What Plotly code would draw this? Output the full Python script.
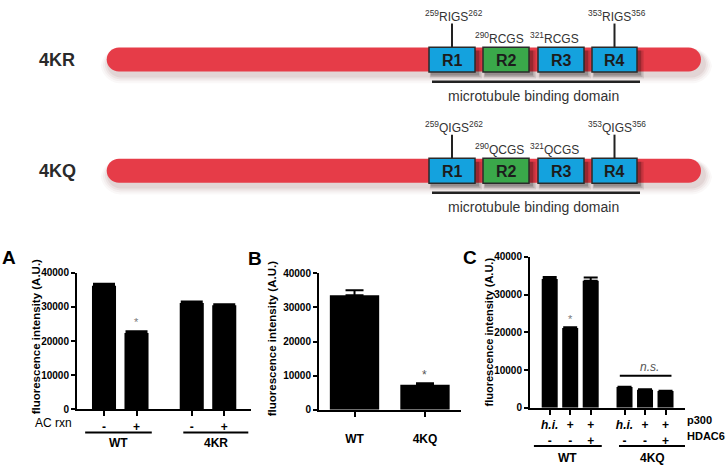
import plotly.graph_objects as go

W, H = 726, 472
FONT = "Liberation Sans, Arial, sans-serif"

# ---------------- data ----------------
A_conditions = ['-', '+', '-', '+']
A_groups = ['WT', 'WT', '4KR', '4KR']
A_values = [36170, 22370, 31140, 30460]
A_errors = [570, 490, 370, 280]

B_categories = ['WT', '4KQ']
B_values = [33600, 7310]
B_errors = [1450, 490]

C_p300 = ['h.i.', '+', '+', 'h.i.', '+', '+']
C_hdac6 = ['-', '-', '+', '-', '-', '+']
C_groups = ['WT', 'WT', 'WT', '4KQ', '4KQ', '4KQ']
C_values = [34140, 21160, 33620, 5500, 4800, 4460]
C_errors = [520, 150, 860, 100, 150, 80]

y_ticks = [0, 10000, 20000, 30000, 40000]
y_ticktext = ['0', '10000', '20000', '30000', '40000']

constructs = ['4KR', '4KQ']
repeat_names = ['R1', 'R2', 'R3', 'R4']
repeat_colors = ['#14A2DE', '#3AA84A', '#14A2DE', '#14A2DE']
motif_start = ['259', '290', '321', '353']
motif_end = ['262', '', '', '356']
motif_seq = {'4KR': ['RIGS', 'RCGS', 'RCGS', 'RIGS'],
             '4KQ': ['QIGS', 'QCGS', 'QCGS', 'QIGS']}
domain_label = 'microtubule binding domain'

# ---------------- helpers ----------------
def px(x):
    return x / W

def py(y):
    return 1 - y / H

def positions(groups, gap):
    pos, idx, prev = [], 0, None
    for grp in groups:
        if prev is not None:
            idx += (1 + gap) if grp != prev else 1
        pos.append(idx)
        prev = grp
    return pos

def rrect(x0, y0, x1, y1, r):
    k = 0.5523 * r
    return (f"M{x0+r},{y0} L{x1-r},{y0} C{x1-r+k},{y0} {x1},{y0+r-k} {x1},{y0+r} "
            f"L{x1},{y1-r} C{x1},{y1-r+k} {x1-r+k},{y1} {x1-r},{y1} "
            f"L{x0+r},{y1} C{x0+r-k},{y1} {x0},{y1-r+k} {x0},{y1-r} "
            f"L{x0},{y0+r} C{x0},{y0+r-k} {x0+r-k},{y0} {x0+r},{y0} Z")

A_pos = positions(A_groups, 0.7)
B_pos = list(range(len(B_categories)))
C_pos = positions(C_groups, 0.65)

fig = go.Figure()

def err(arr, w):
    return dict(type='data', array=arr, arrayminus=[0] * len(arr), symmetric=False,
                color='black', thickness=2, width=w)

fig.add_trace(go.Bar(x=A_pos, y=A_values, width=0.74, marker=dict(color='black', line=dict(width=0)),
                     error_y=err(A_errors, 11), xaxis='x', yaxis='y', hoverinfo='skip'))
fig.add_trace(go.Bar(x=B_pos, y=B_values, width=0.70, marker=dict(color='black', line=dict(width=0)),
                     error_y=err(B_errors, 9), xaxis='x2', yaxis='y2', hoverinfo='skip'))
fig.add_trace(go.Bar(x=C_pos, y=C_values, width=0.78, marker=dict(color='black', line=dict(width=0)),
                     error_y=err(C_errors, 7), xaxis='x3', yaxis='y3', hoverinfo='skip'))

ytick_font = dict(family=FONT, size=10, color='black', weight='bold')
xtick_font = dict(family=FONT, size=12, color='black', weight='bold')

def yax(domain, anchor):
    return dict(domain=domain, anchor=anchor, range=[0, 40000], tickvals=y_ticks, ticktext=y_ticktext,
                showline=True, linecolor='black', linewidth=2, ticks='outside', ticklen=4, tickwidth=2,
                tickcolor='black', showgrid=False, zeroline=False, tickfont=ytick_font, fixedrange=True)

def xax(domain, anchor, rng, tv, tt, standoff=0):
    d = dict(domain=domain, anchor=anchor, range=rng, tickvals=tv, ticktext=tt, showline=True,
             linecolor='black', linewidth=2, ticks='outside', ticklen=5, tickwidth=2, tickcolor='black',
             showgrid=False, zeroline=False, tickfont=xtick_font, fixedrange=True)
    if standoff:
        d['ticklabelstandoff'] = standoff
    return d

C_ticktext = [(f"<i>{p}</i>" if p == 'h.i.' else p) + "<br>" + h for p, h in zip(C_p300, C_hdac6)]

fig.update_layout(
    width=W, height=H, margin=dict(l=0, r=0, t=0, b=0),
    paper_bgcolor='white', plot_bgcolor='white', showlegend=False,
    font=dict(family=FONT, color='black'),
    xaxis=xax([px(77), px(251)], 'y', [-0.831, 4.523], A_pos, A_conditions),
    yaxis=yax([py(414), py(273.5)], 'x'),
    xaxis2=xax([px(319), px(461)], 'y2', [-0.504, 1.511], B_pos, B_categories, standoff=12),
    yaxis2=yax([py(414.3), py(274.3)], 'x2'),
    xaxis3=xax([px(530), px(685)], 'y3', [-0.961, 6.6], C_pos, C_ticktext),
    yaxis3=yax([py(412.3), py(257.3)], 'x3'),
    xaxis4=dict(domain=[0, 1], anchor='y4', range=[0, W], visible=False, fixedrange=True),
    yaxis4=dict(domain=[py(240), 1], anchor='x4', range=[240, 0], visible=False, fixedrange=True),
)

shapes = []
ann = []

# ---------------- protein diagram ----------------
bar_x0, bar_x1, bar_half = 106.7, 701, 12.3
box_x = [(429, 475), (483, 529), (538, 584), (592, 637)]
row_y = [55, 169]
for ci, cname in enumerate(constructs):
    yc = row_y[ci]
    for grow, alpha in [(8, 0.035), (6, 0.045), (4, 0.06), (2, 0.08)]:
        shapes.append(dict(type='path', xref='x4', yref='y4',
                           path=rrect(bar_x0 + 2 - grow, yc - bar_half + 4 - grow * 0.4,
                                      bar_x1 + 3 + grow, yc + bar_half + 4 + grow,
                                      bar_half + grow),
                           fillcolor=f'rgba(120,45,45,{alpha})', line=dict(width=0), layer='above'))
    shapes.append(dict(type='path', xref='x4', yref='y4',
                       path=rrect(bar_x0, yc - bar_half, bar_x1, yc + bar_half, bar_half),
                       fillcolor='#E63C48', line=dict(width=0), layer='above'))
    for ri, (bx0, bx1) in enumerate(box_x):
        for grow, alpha in [(4, 0.08), (2.5, 0.12), (1, 0.18)]:
            shapes.append(dict(type='rect', xref='x4', yref='y4',
                               x0=bx0 + 2 - grow * 0.3, x1=bx1 + 3 + grow,
                               y0=yc - bar_half + 3, y1=yc + bar_half + 3 + grow,
                               fillcolor=f'rgba(0,0,0,{alpha})', line=dict(width=0), layer='above'))
    for ri, (bx0, bx1) in enumerate(box_x):
        shapes.append(dict(type='rect', xref='x4', yref='y4', x0=bx0, x1=bx1,
                           y0=yc - 12.8, y1=yc + 12.8, fillcolor=repeat_colors[ri],
                           line=dict(color='#2a2a2a', width=1.5), layer='above'))
        ann.append(dict(xref='x4', yref='y4', x=(bx0 + bx1) / 2, y=yc + 0.5, text=repeat_names[ri],
                        showarrow=False, font=dict(family=FONT, size=16, color='#1c1c1c', weight='bold'),
                        xanchor='center', yanchor='middle'))
        seq = motif_seq[cname][ri]
        txt = f"<sup>{motif_start[ri]}</sup>{seq}" + (f"<sup>{motif_end[ri]}</sup>" if motif_end[ri] else "")
        bc = (bx0 + bx1) / 2
        if motif_end[ri]:
            shapes.append(dict(type='line', xref='x4', yref='y4', x0=bc, x1=bc,
                               y0=yc - 37, y1=yc - 13, line=dict(color='#222', width=2), layer='above'))
            ann.append(dict(xref='x4', yref='y4', x=bc + 2, y=yc - 45, text=txt, showarrow=False,
                            font=dict(family=FONT, size=12, color='#333'), xanchor='center', yanchor='middle'))
        else:
            ann.append(dict(xref='x4', yref='y4', x=bc - 7, y=yc - 22, text=txt, showarrow=False,
                            font=dict(family=FONT, size=12, color='#333'), xanchor='center', yanchor='middle'))
    shapes.append(dict(type='line', xref='x4', yref='y4', x0=432, x1=640, y0=yc + 22.7, y1=yc + 22.7,
                       line=dict(color='#222', width=2.5), layer='above'))
    ann.append(dict(xref='x4', yref='y4', x=533, y=yc + 37, text=domain_label, showarrow=False,
                    font=dict(family=FONT, size=14, color='#333'), xanchor='center', yanchor='middle'))
    ann.append(dict(xref='x4', yref='y4', x=57, y=yc + 0.5, text=cname, showarrow=False,
                    font=dict(family=FONT, size=18, color='#2a2a2a', weight='bold'),
                    xanchor='center', yanchor='middle'))

# ---------------- bar chart decorations ----------------
title = 'fluorescence intensity (A.U.)'
for (xc, yc, fs) in [(36, 340, 11.5), (272, 342, 11.5), (489, 335, 11)]:
    ann.append(dict(xref='paper', yref='paper', x=px(xc), y=py(yc), text=title, textangle=-90,
                    showarrow=False, font=dict(family=FONT, size=fs, color='black', weight='bold'),
                    xanchor='center', yanchor='middle'))
for (lab, xc, yc) in [('A', 9, 258), ('B', 255, 259), ('C', 470, 258)]:
    ann.append(dict(xref='paper', yref='paper', x=px(xc), y=py(yc), text=lab, showarrow=False,
                    font=dict(family=FONT, size=19, color='black', weight='bold'),
                    xanchor='center', yanchor='middle'))

# Panel A
ann.append(dict(xref='paper', yref='paper', x=px(53), y=py(428), text='AC rxn', showarrow=False,
                font=dict(family=FONT, size=12, color='black'), xanchor='center', yanchor='middle'))
A_spans = {'WT': (-0.58, 1.47), '4KR': (2.44, 4.44)}
for g, (u0, u1) in A_spans.items():
    shapes.append(dict(type='line', xref='x', yref='paper', x0=u0, x1=u1, y0=py(437.7), y1=py(437.7),
                       line=dict(color='black', width=2)))
    ann.append(dict(xref='x', yref='paper', x=(u0 + u1) / 2, y=py(448), text=g, showarrow=False,
                    font=dict(family=FONT, size=12, color='black', weight='bold'),
                    xanchor='center', yanchor='middle'))
ann.append(dict(xref='x', yref='y', x=A_pos[1], y=25600, text='*', showarrow=False,
                font=dict(family=FONT, size=11, color='#7a7a7a'), xanchor='center', yanchor='middle'))

# Panel B
ann.append(dict(xref='x2', yref='y2', x=B_pos[1], y=10200, text='*', showarrow=False,
                font=dict(family=FONT, size=12, color='#555'), xanchor='center', yanchor='middle'))

# Panel C
C_spans = {'WT': (-0.77, 2.54), '4KQ': (3.38, 6.63)}
for g, (u0, u1) in C_spans.items():
    shapes.append(dict(type='line', xref='x3', yref='paper', x0=u0, x1=u1, y0=py(451.5), y1=py(451.5),
                       line=dict(color='black', width=2)))
    ann.append(dict(xref='x3', yref='paper', x=(u0 + u1) / 2, y=py(464), text=g, showarrow=False,
                    font=dict(family=FONT, size=12, color='black', weight='bold'),
                    xanchor='center', yanchor='middle'))
for lab, yc in [('p300', 425), ('HDAC6', 441)]:
    ann.append(dict(xref='paper', yref='paper', x=px(685), y=py(yc), text=lab, showarrow=False,
                    font=dict(family=FONT, size=11, color='black', weight='bold'),
                    xanchor='left', yanchor='middle'))
ann.append(dict(xref='x3', yref='y3', x=C_pos[1], y=23500, text='*', showarrow=False,
                font=dict(family=FONT, size=11, color='#7a7a7a'), xanchor='center', yanchor='middle'))
shapes.append(dict(type='line', xref='x3', yref='y3', x0=3.42, x1=5.94, y0=8516, y1=8516,
                   line=dict(color='black', width=2)))
ann.append(dict(xref='x3', yref='y3', x=4.89, y=10830, text='<i>n.s.</i>', showarrow=False,
                font=dict(family=FONT, size=12, color='#555'), xanchor='center', yanchor='middle'))

fig.update_layout(shapes=shapes, annotations=ann)
fig.write_html("out.html", config={'displayModeBar': False},
               post_script="document.body.style.margin='0px';document.body.style.overflow='hidden';")
